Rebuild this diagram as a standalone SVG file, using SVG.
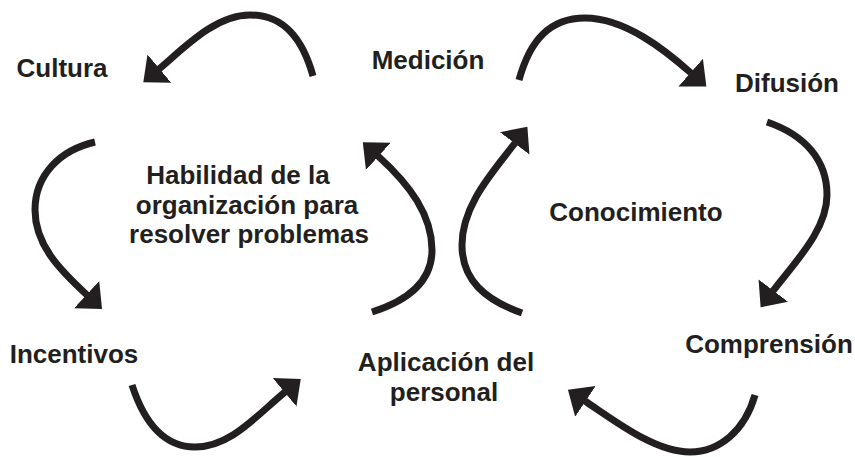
<svg xmlns="http://www.w3.org/2000/svg" width="855" height="457" viewBox="0 0 855 457">
  <style>
    .lbl { font-family: "Liberation Sans", Arial, sans-serif; font-weight: bold; font-size: 26px; fill: #231f20; text-anchor: middle; }
    .arr { fill: none; stroke: #231f20; stroke-width: 7; stroke-linecap: butt; marker-end: url(#head); }
  </style>
  <defs>
    <marker id="head" markerUnits="userSpaceOnUse" markerWidth="24" markerHeight="40" viewBox="0 -20 24 40" refX="0.5" refY="0" orient="auto">
      <path d="M0,-18.5 L21,0 L0,18.5 Z" fill="#231f20"/>
    </marker>
  </defs>
  <rect width="855" height="457" fill="#ffffff"/>

  <g id="connectors">
    <path class="arr" d="M313,76 C303,40 285,15 250,15 C215,15 184,48 159,69"/>
    <path class="arr" d="M519,80 C530,40 550,18 585,18 C625,18 665,50 691,73"/>
    <path class="arr" d="M95,142 C60,150 35,175 35,210 C35,245 60,270 87,295"/>
    <path class="arr" d="M767,122 C805,135 827,160 827,195 C827,230 795,262 773,291"/>
    <path class="arr" d="M755,395 C745,430 720,452 690,452 C655,452 615,421 585,401"/>
    <path class="arr" d="M132,385 C145,425 165,447 195,447 C230,447 255,417 285,392"/>
    <path class="arr" d="M372,312 C410,300 432,280 432,250 C432,215 410,185 378,156"/>
    <path class="arr" d="M522,313 C485,300 462,280 462,245 C462,205 493,172 515,143"/>
  </g>

  <g id="cultura"><text class="lbl" x="62" y="77">Cultura</text></g>
  <g id="medicion"><text class="lbl" x="428" y="69">Medición</text></g>
  <g id="difusion"><text class="lbl" x="787" y="92">Difusión</text></g>
  <g id="habilidad">
    <text class="lbl" x="238" y="184">Habilidad de la</text>
    <text class="lbl" x="247" y="214">organización para</text>
    <text class="lbl" x="249" y="243">resolver problemas</text>
  </g>
  <g id="conocimiento"><text class="lbl" x="636" y="221">Conocimiento</text></g>
  <g id="incentivos"><text class="lbl" x="74" y="363">Incentivos</text></g>
  <g id="aplicacion">
    <text class="lbl" x="446" y="371">Aplicación del</text>
    <text class="lbl" x="444" y="401">personal</text>
  </g>
  <g id="comprension"><text class="lbl" x="769" y="353">Comprensión</text></g>
</svg>
